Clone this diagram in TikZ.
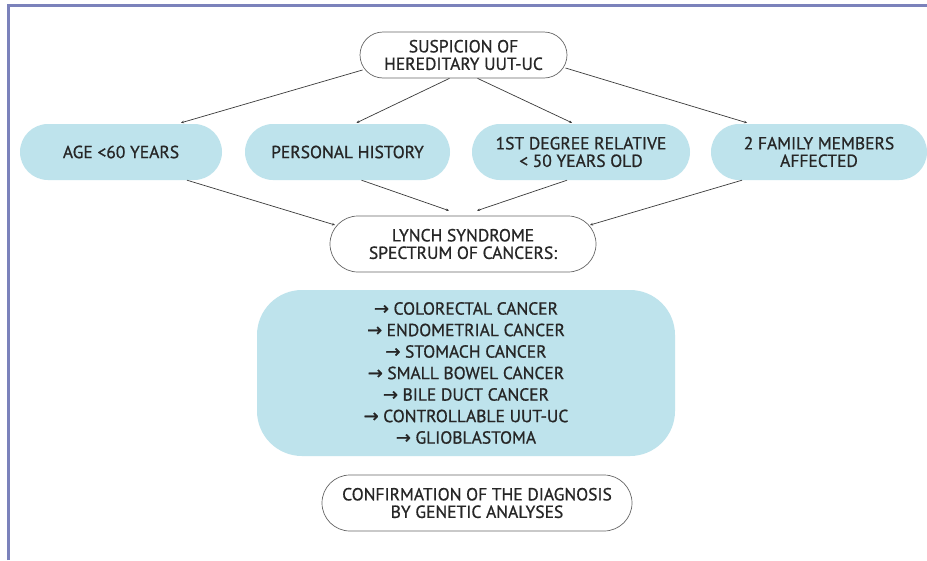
\documentclass[tikz,border=0pt]{standalone}
\usepackage{fontspec}
\setmainfont{PT Sans}[FakeBold=0.8]
\newfontfamily\arrfont{DejaVu Sans}[FakeBold=1]
\usetikzlibrary{arrows.meta,calc}
\definecolor{pill}{HTML}{BEE3EC}
\definecolor{frame}{HTML}{7B82BB}
\definecolor{txt}{HTML}{262626}
\definecolor{edge}{HTML}{3A3A3A}
\newcommand{\arr}{{\arrfont\fontsize{18}{18}\selectfont →}\hspace{4.5pt}}
\begin{document}
\begin{tikzpicture}[x=1pt,y=-1pt,
  every node/.style={font=\fontsize{17.5}{17.5}\selectfont, text=txt, align=center, inner sep=0pt},
  bluepill/.style={fill=pill, rounded corners=28pt, minimum height=56pt},
  whitepill/.style={draw=black!60, line width=0.7pt, fill=white, rounded corners=23pt},
  conn/.style={draw=edge, line width=0.7pt, -{Stealth[length=3pt,width=2.6pt]}}]
\useasboundingbox (0,0) rectangle (927,560);
\fill[white] (0,0) rectangle (927,560);
% frame
\draw[frame, line width=2.2pt] (8.5,560) -- (8.5,5.5) -- (927,5.5);
% nodes
\node[whitepill, minimum width=207pt, minimum height=46pt] (top) at (463.5,55) {SUSPICION OF\\HEREDITARY UUT-UC};
\node[bluepill, minimum width=202pt] (age) at (121,152) {AGE <60 YEARS};
\node[bluepill, minimum width=205pt] (pers) at (347.5,152) {PERSONAL HISTORY};
\node[bluepill, minimum width=218pt] (rel) at (581,152) {1ST DEGREE RELATIVE\\< 50 YEARS OLD};
\node[bluepill, minimum width=216pt] (fam) at (819,152) {2 FAMILY MEMBERS\\AFFECTED};
\node[whitepill, rounded corners=28pt, minimum width=266pt, minimum height=56pt] (lynch) at (463,244) {LYNCH SYNDROME\\SPECTRUM OF CANCERS:};
\node[fill=pill, rounded corners=45pt, minimum width=418pt, minimum height=166pt, font=\fontsize{17.5}{21.5}\selectfont] (list) at (466,373)
  {\arr COLORECTAL CANCER\\\arr ENDOMETRIAL CANCER\\\arr STOMACH CANCER\\\arr SMALL BOWEL CANCER\\\arr BILE DUCT CANCER\\\arr CONTROLLABLE UUT-UC\\\arr GLIOBLASTOMA};
\node[whitepill, rounded corners=28pt, minimum width=310pt, minimum height=56pt] (conf) at (477,503) {CONFIRMATION OF THE DIAGNOSIS\\BY GENETIC ANALYSES};
% connectors
\draw[conn] ($(top.center)+(-101,15)$) -- ($(age.north)+(60,-1)$);
\draw[conn] ($(top.south)+(-14,0)$) -- ($(pers.north)+(9,-1)$);
\draw[conn] ($(top.south)+(14,0)$) -- ($(rel.north)+(-9,-1)$);
\draw[conn] ($(top.center)+(102,13)$) -- ($(fam.north)+(-72,-1)$);
\draw[conn] ($(age.south)+(66,0)$) -- ($(lynch.center)+(-128,-19)$);
\draw[conn] ($(pers.south)+(14,0)$) -- ($(lynch.north)+(-14,-5)$);
\draw[conn] ($(rel.south)+(-14,0)$) -- ($(lynch.north)+(14,-5)$);
\draw[conn] ($(fam.south)+(-77,0)$) -- ($(lynch.center)+(127,-19)$);
\end{tikzpicture}
\end{document}
